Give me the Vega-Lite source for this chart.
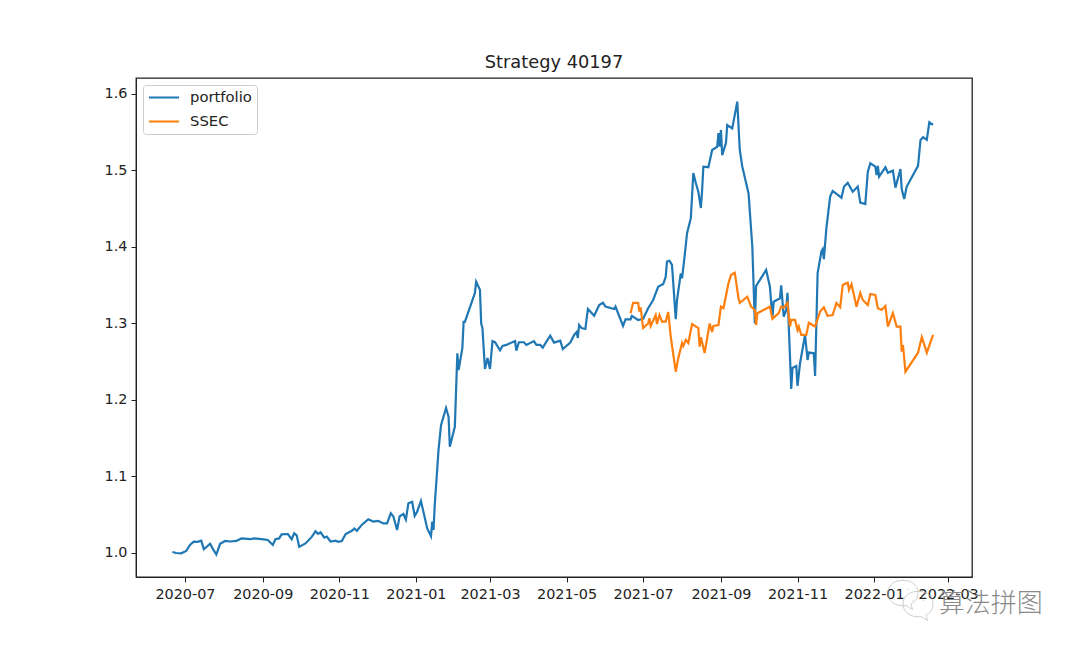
{"$schema":"https://vega.github.io/schema/vega-lite/v6.json","width":836,"height":499,"autosize":{"type":"none"},"padding":{"left":136,"top":78,"right":108,"bottom":71},"background":"white",
"title":{"text":"Strategy 40197","font":"DejaVu Sans","fontSize":17.8,"fontWeight":"normal","color":"#222222","offset":6,"anchor":"middle"},
"config":{"font":"DejaVu Sans","view":{"stroke":"#222222","strokeWidth":1.3}},
"layer":[
{"data":{"values":[
{"date":"2020-06-21","series":"portfolio","value":1.0013},{"date":"2020-06-24","series":"portfolio","value":1.0},{"date":"2020-06-28","series":"portfolio","value":0.9995},{"date":"2020-07-02","series":"portfolio","value":1.0026},{"date":"2020-07-05","series":"portfolio","value":1.0105},{"date":"2020-07-08","series":"portfolio","value":1.0148},{"date":"2020-07-11","series":"portfolio","value":1.0145},{"date":"2020-07-14","series":"portfolio","value":1.016},{"date":"2020-07-16","series":"portfolio","value":1.005},{"date":"2020-07-18","series":"portfolio","value":1.0075},{"date":"2020-07-21","series":"portfolio","value":1.012},{"date":"2020-07-23","series":"portfolio","value":1.006},{"date":"2020-07-26","series":"portfolio","value":0.998},{"date":"2020-07-29","series":"portfolio","value":1.012},{"date":"2020-08-02","series":"portfolio","value":1.0157},{"date":"2020-08-06","series":"portfolio","value":1.015},{"date":"2020-08-11","series":"portfolio","value":1.0157},{"date":"2020-08-15","series":"portfolio","value":1.019},{"date":"2020-08-22","series":"portfolio","value":1.018},{"date":"2020-08-25","series":"portfolio","value":1.019},{"date":"2020-08-31","series":"portfolio","value":1.018},{"date":"2020-09-05","series":"portfolio","value":1.017},{"date":"2020-09-09","series":"portfolio","value":1.0105},{"date":"2020-09-11","series":"portfolio","value":1.018},{"date":"2020-09-14","series":"portfolio","value":1.019},{"date":"2020-09-16","series":"portfolio","value":1.0244},{"date":"2020-09-21","series":"portfolio","value":1.0248},{"date":"2020-09-24","series":"portfolio","value":1.018},{"date":"2020-09-26","series":"portfolio","value":1.0257},{"date":"2020-09-28","series":"portfolio","value":1.023},{"date":"2020-09-30","series":"portfolio","value":1.008},{"date":"2020-10-05","series":"portfolio","value":1.0125},{"date":"2020-10-10","series":"portfolio","value":1.021},{"date":"2020-10-13","series":"portfolio","value":1.0283},{"date":"2020-10-15","series":"portfolio","value":1.025},{"date":"2020-10-17","series":"portfolio","value":1.027},{"date":"2020-10-20","series":"portfolio","value":1.02},{"date":"2020-10-22","series":"portfolio","value":1.0215},{"date":"2020-10-25","series":"portfolio","value":1.015},{"date":"2020-10-29","series":"portfolio","value":1.016},{"date":"2020-10-31","series":"portfolio","value":1.0146},{"date":"2020-11-03","series":"portfolio","value":1.0155},{"date":"2020-11-06","series":"portfolio","value":1.0248},{"date":"2020-11-11","series":"portfolio","value":1.029},{"date":"2020-11-13","series":"portfolio","value":1.032},{"date":"2020-11-15","series":"portfolio","value":1.029},{"date":"2020-11-19","series":"portfolio","value":1.037},{"date":"2020-11-24","series":"portfolio","value":1.044},{"date":"2020-11-28","series":"portfolio","value":1.041},{"date":"2020-12-02","series":"portfolio","value":1.042},{"date":"2020-12-06","series":"portfolio","value":1.0386},{"date":"2020-12-09","series":"portfolio","value":1.0386},{"date":"2020-12-12","series":"portfolio","value":1.052},{"date":"2020-12-14","series":"portfolio","value":1.0478},{"date":"2020-12-17","series":"portfolio","value":1.03},{"date":"2020-12-19","series":"portfolio","value":1.0478},{"date":"2020-12-22","series":"portfolio","value":1.051},{"date":"2020-12-24","series":"portfolio","value":1.0435},{"date":"2020-12-26","series":"portfolio","value":1.065},{"date":"2020-12-29","series":"portfolio","value":1.067},{"date":"2020-12-31","series":"portfolio","value":1.0485},{"date":"2021-01-02","series":"portfolio","value":1.054},{"date":"2021-01-05","series":"portfolio","value":1.068},{"date":"2021-01-10","series":"portfolio","value":1.032},{"date":"2021-01-13","series":"portfolio","value":1.022},{"date":"2021-01-14","series":"portfolio","value":1.041},{"date":"2021-01-15","series":"portfolio","value":1.03},{"date":"2021-01-16","series":"portfolio","value":1.0627},{"date":"2021-01-17","series":"portfolio","value":1.0867},{"date":"2021-01-19","series":"portfolio","value":1.1346},{"date":"2021-01-21","series":"portfolio","value":1.167},{"date":"2021-01-25","series":"portfolio","value":1.1895},{"date":"2021-01-27","series":"portfolio","value":1.178},{"date":"2021-01-28","series":"portfolio","value":1.139},{"date":"2021-02-01","series":"portfolio","value":1.165},{"date":"2021-02-03","series":"portfolio","value":1.261},{"date":"2021-02-04","series":"portfolio","value":1.239},{"date":"2021-02-07","series":"portfolio","value":1.268},{"date":"2021-02-08","series":"portfolio","value":1.302},{"date":"2021-02-09","series":"portfolio","value":1.302},{"date":"2021-02-17","series":"portfolio","value":1.34},{"date":"2021-02-18","series":"portfolio","value":1.3546},{"date":"2021-02-21","series":"portfolio","value":1.344},{"date":"2021-02-22","series":"portfolio","value":1.3},{"date":"2021-02-23","series":"portfolio","value":1.294},{"date":"2021-02-25","series":"portfolio","value":1.2405},{"date":"2021-02-27","series":"portfolio","value":1.255},{"date":"2021-03-01","series":"portfolio","value":1.2405},{"date":"2021-03-03","series":"portfolio","value":1.277},{"date":"2021-03-05","series":"portfolio","value":1.2755},{"date":"2021-03-09","series":"portfolio","value":1.265},{"date":"2021-03-11","series":"portfolio","value":1.2706},{"date":"2021-03-14","series":"portfolio","value":1.272},{"date":"2021-03-21","series":"portfolio","value":1.277},{"date":"2021-03-22","series":"portfolio","value":1.2644},{"date":"2021-03-24","series":"portfolio","value":1.2755},{"date":"2021-03-28","series":"portfolio","value":1.2755},{"date":"2021-03-30","series":"portfolio","value":1.272},{"date":"2021-04-05","series":"portfolio","value":1.277},{"date":"2021-04-07","series":"portfolio","value":1.272},{"date":"2021-04-10","series":"portfolio","value":1.272},{"date":"2021-04-12","series":"portfolio","value":1.2684},{"date":"2021-04-16","series":"portfolio","value":1.279},{"date":"2021-04-18","series":"portfolio","value":1.284},{"date":"2021-04-21","series":"portfolio","value":1.275},{"date":"2021-04-26","series":"portfolio","value":1.2775},{"date":"2021-04-28","series":"portfolio","value":1.2665},{"date":"2021-05-04","series":"portfolio","value":1.275},{"date":"2021-05-07","series":"portfolio","value":1.285},{"date":"2021-05-09","series":"portfolio","value":1.2888},{"date":"2021-05-10","series":"portfolio","value":1.281},{"date":"2021-05-11","series":"portfolio","value":1.298},{"date":"2021-05-13","series":"portfolio","value":1.294},{"date":"2021-05-16","series":"portfolio","value":1.2928},{"date":"2021-05-18","series":"portfolio","value":1.319},{"date":"2021-05-23","series":"portfolio","value":1.31},{"date":"2021-05-27","series":"portfolio","value":1.324},{"date":"2021-05-30","series":"portfolio","value":1.327},{"date":"2021-06-01","series":"portfolio","value":1.322},{"date":"2021-06-08","series":"portfolio","value":1.319},{"date":"2021-06-09","series":"portfolio","value":1.322},{"date":"2021-06-15","series":"portfolio","value":1.2967},{"date":"2021-06-17","series":"portfolio","value":1.3055},{"date":"2021-06-21","series":"portfolio","value":1.3055},{"date":"2021-06-22","series":"portfolio","value":1.31},{"date":"2021-06-27","series":"portfolio","value":1.3046},{"date":"2021-07-01","series":"portfolio","value":1.306},{"date":"2021-07-05","series":"portfolio","value":1.32},{"date":"2021-07-09","series":"portfolio","value":1.3307},{"date":"2021-07-13","series":"portfolio","value":1.348},{"date":"2021-07-17","series":"portfolio","value":1.3516},{"date":"2021-07-19","series":"portfolio","value":1.361},{"date":"2021-07-20","series":"portfolio","value":1.381},{"date":"2021-07-22","series":"portfolio","value":1.382},{"date":"2021-07-24","series":"portfolio","value":1.3765},{"date":"2021-07-27","series":"portfolio","value":1.3055},{"date":"2021-07-28","series":"portfolio","value":1.3307},{"date":"2021-07-31","series":"portfolio","value":1.3656},{"date":"2021-08-01","series":"portfolio","value":1.359},{"date":"2021-08-03","series":"portfolio","value":1.387},{"date":"2021-08-05","series":"portfolio","value":1.418},{"date":"2021-08-08","series":"portfolio","value":1.4377},{"date":"2021-08-10","series":"portfolio","value":1.4967},{"date":"2021-08-12","series":"portfolio","value":1.4837},{"date":"2021-08-14","series":"portfolio","value":1.472},{"date":"2021-08-16","series":"portfolio","value":1.451},{"date":"2021-08-17","series":"portfolio","value":1.4745},{"date":"2021-08-18","series":"portfolio","value":1.505},{"date":"2021-08-22","series":"portfolio","value":1.5043},{"date":"2021-08-25","series":"portfolio","value":1.5268},{"date":"2021-08-29","series":"portfolio","value":1.531},{"date":"2021-08-30","series":"portfolio","value":1.549},{"date":"2021-08-31","series":"portfolio","value":1.531},{"date":"2021-09-01","series":"portfolio","value":1.553},{"date":"2021-09-02","series":"portfolio","value":1.52},{"date":"2021-09-05","series":"portfolio","value":1.536},{"date":"2021-09-06","series":"portfolio","value":1.5595},{"date":"2021-09-10","series":"portfolio","value":1.555},{"date":"2021-09-14","series":"portfolio","value":1.59},{"date":"2021-09-16","series":"portfolio","value":1.5268},{"date":"2021-09-18","series":"portfolio","value":1.505},{"date":"2021-09-23","series":"portfolio","value":1.47},{"date":"2021-09-26","series":"portfolio","value":1.4},{"date":"2021-09-28","series":"portfolio","value":1.3},{"date":"2021-09-29","series":"portfolio","value":1.349},{"date":"2021-10-07","series":"portfolio","value":1.37},{"date":"2021-10-10","series":"portfolio","value":1.348},{"date":"2021-10-12","series":"portfolio","value":1.307},{"date":"2021-10-13","series":"portfolio","value":1.3285},{"date":"2021-10-18","series":"portfolio","value":1.333},{"date":"2021-10-19","series":"portfolio","value":1.35},{"date":"2021-10-21","series":"portfolio","value":1.309},{"date":"2021-10-23","series":"portfolio","value":1.3177},{"date":"2021-10-24","series":"portfolio","value":1.34},{"date":"2021-10-27","series":"portfolio","value":1.2144},{"date":"2021-10-28","series":"portfolio","value":1.2418},{"date":"2021-10-31","series":"portfolio","value":1.2444},{"date":"2021-11-01","series":"portfolio","value":1.2183},{"date":"2021-11-03","series":"portfolio","value":1.248},{"date":"2021-11-07","series":"portfolio","value":1.285},{"date":"2021-11-09","series":"portfolio","value":1.2523},{"date":"2021-11-10","series":"portfolio","value":1.262},{"date":"2021-11-14","series":"portfolio","value":1.261},{"date":"2021-11-15","series":"portfolio","value":1.2314},{"date":"2021-11-17","series":"portfolio","value":1.3656},{"date":"2021-11-20","series":"portfolio","value":1.3939},{"date":"2021-11-21","series":"portfolio","value":1.397},{"date":"2021-11-22","series":"portfolio","value":1.384},{"date":"2021-11-24","series":"portfolio","value":1.4247},{"date":"2021-11-27","series":"portfolio","value":1.4658},{"date":"2021-11-29","series":"portfolio","value":1.4732},{"date":"2021-12-06","series":"portfolio","value":1.4644},{"date":"2021-12-08","series":"portfolio","value":1.4788},{"date":"2021-12-11","series":"portfolio","value":1.484},{"date":"2021-12-15","series":"portfolio","value":1.4723},{"date":"2021-12-19","series":"portfolio","value":1.479},{"date":"2021-12-21","series":"portfolio","value":1.458},{"date":"2021-12-25","series":"portfolio","value":1.456},{"date":"2021-12-27","series":"portfolio","value":1.4985},{"date":"2021-12-29","series":"portfolio","value":1.5094},{"date":"2022-01-02","series":"portfolio","value":1.505},{"date":"2022-01-03","series":"portfolio","value":1.494},{"date":"2022-01-04","series":"portfolio","value":1.506},{"date":"2022-01-05","series":"portfolio","value":1.492},{"date":"2022-01-10","series":"portfolio","value":1.5042},{"date":"2022-01-12","series":"portfolio","value":1.497},{"date":"2022-01-16","series":"portfolio","value":1.4998},{"date":"2022-01-18","series":"portfolio","value":1.4775},{"date":"2022-01-22","series":"portfolio","value":1.502},{"date":"2022-01-23","series":"portfolio","value":1.4757},{"date":"2022-01-25","series":"portfolio","value":1.4627},{"date":"2022-01-27","series":"portfolio","value":1.479},{"date":"2022-02-05","series":"portfolio","value":1.506},{"date":"2022-02-07","series":"portfolio","value":1.54},{"date":"2022-02-09","series":"portfolio","value":1.5435},{"date":"2022-02-12","series":"portfolio","value":1.54},{"date":"2022-02-14","series":"portfolio","value":1.563},{"date":"2022-02-17","series":"portfolio","value":1.5595},
{"date":"2021-06-21","series":"SSEC","value":1.3133},{"date":"2021-06-23","series":"SSEC","value":1.327},{"date":"2021-06-27","series":"SSEC","value":1.327},{"date":"2021-06-28","series":"SSEC","value":1.3155},{"date":"2021-06-29","series":"SSEC","value":1.3212},{"date":"2021-07-01","series":"SSEC","value":1.294},{"date":"2021-07-05","series":"SSEC","value":1.3},{"date":"2021-07-06","series":"SSEC","value":1.307},{"date":"2021-07-07","series":"SSEC","value":1.2967},{"date":"2021-07-11","series":"SSEC","value":1.311},{"date":"2021-07-12","series":"SSEC","value":1.2993},{"date":"2021-07-14","series":"SSEC","value":1.311},{"date":"2021-07-16","series":"SSEC","value":1.3024},{"date":"2021-07-19","series":"SSEC","value":1.3024},{"date":"2021-07-21","series":"SSEC","value":1.315},{"date":"2021-07-23","series":"SSEC","value":1.2828},{"date":"2021-07-27","series":"SSEC","value":1.237},{"date":"2021-07-29","series":"SSEC","value":1.2547},{"date":"2021-08-01","series":"SSEC","value":1.2745},{"date":"2021-08-02","series":"SSEC","value":1.2706},{"date":"2021-08-04","series":"SSEC","value":1.2785},{"date":"2021-08-06","series":"SSEC","value":1.2745},{"date":"2021-08-09","series":"SSEC","value":1.2993},{"date":"2021-08-14","series":"SSEC","value":1.294},{"date":"2021-08-15","series":"SSEC","value":1.2697},{"date":"2021-08-16","series":"SSEC","value":1.282},{"date":"2021-08-19","series":"SSEC","value":1.2614},{"date":"2021-08-23","series":"SSEC","value":1.3},{"date":"2021-08-25","series":"SSEC","value":1.289},{"date":"2021-08-26","series":"SSEC","value":1.2967},{"date":"2021-08-30","series":"SSEC","value":1.298},{"date":"2021-09-01","series":"SSEC","value":1.322},{"date":"2021-09-03","series":"SSEC","value":1.32},{"date":"2021-09-07","series":"SSEC","value":1.3525},{"date":"2021-09-09","series":"SSEC","value":1.3634},{"date":"2021-09-12","series":"SSEC","value":1.3664},{"date":"2021-09-15","series":"SSEC","value":1.333},{"date":"2021-09-16","series":"SSEC","value":1.327},{"date":"2021-09-22","series":"SSEC","value":1.335},{"date":"2021-09-25","series":"SSEC","value":1.322},{"date":"2021-09-28","series":"SSEC","value":1.3177},{"date":"2021-09-29","series":"SSEC","value":1.298},{"date":"2021-09-30","series":"SSEC","value":1.3135},{"date":"2021-10-10","series":"SSEC","value":1.322},{"date":"2021-10-12","series":"SSEC","value":1.306},{"date":"2021-10-17","series":"SSEC","value":1.3135},{"date":"2021-10-19","series":"SSEC","value":1.322},{"date":"2021-10-21","series":"SSEC","value":1.3207},{"date":"2021-10-24","series":"SSEC","value":1.327},{"date":"2021-10-26","series":"SSEC","value":1.296},{"date":"2021-10-27","series":"SSEC","value":1.3046},{"date":"2021-10-30","series":"SSEC","value":1.3046},{"date":"2021-11-01","series":"SSEC","value":1.2915},{"date":"2021-11-02","series":"SSEC","value":1.296},{"date":"2021-11-04","series":"SSEC","value":1.285},{"date":"2021-11-08","series":"SSEC","value":1.285},{"date":"2021-11-10","series":"SSEC","value":1.301},{"date":"2021-11-15","series":"SSEC","value":1.296},{"date":"2021-11-19","series":"SSEC","value":1.3155},{"date":"2021-11-22","series":"SSEC","value":1.3212},{"date":"2021-11-25","series":"SSEC","value":1.31},{"date":"2021-11-29","series":"SSEC","value":1.311},{"date":"2021-12-02","series":"SSEC","value":1.3268},{"date":"2021-12-05","series":"SSEC","value":1.3212},{"date":"2021-12-07","series":"SSEC","value":1.3503},{"date":"2021-12-11","series":"SSEC","value":1.3533},{"date":"2021-12-12","series":"SSEC","value":1.3438},{"date":"2021-12-14","series":"SSEC","value":1.3516},{"date":"2021-12-18","series":"SSEC","value":1.322},{"date":"2021-12-21","series":"SSEC","value":1.3399},{"date":"2021-12-23","series":"SSEC","value":1.3307},{"date":"2021-12-27","series":"SSEC","value":1.324},{"date":"2021-12-29","series":"SSEC","value":1.3386},{"date":"2022-01-02","series":"SSEC","value":1.3373},{"date":"2022-01-04","series":"SSEC","value":1.32},{"date":"2022-01-07","series":"SSEC","value":1.3177},{"date":"2022-01-10","series":"SSEC","value":1.3229},{"date":"2022-01-12","series":"SSEC","value":1.2958},{"date":"2022-01-16","series":"SSEC","value":1.3135},{"date":"2022-01-19","series":"SSEC","value":1.2958},{"date":"2022-01-22","series":"SSEC","value":1.2958},{"date":"2022-01-23","series":"SSEC","value":1.2632},{"date":"2022-01-24","series":"SSEC","value":1.2719},{"date":"2022-01-26","series":"SSEC","value":1.237},{"date":"2022-02-05","series":"SSEC","value":1.2618},{"date":"2022-02-08","series":"SSEC","value":1.2823},{"date":"2022-02-12","series":"SSEC","value":1.2618},{"date":"2022-02-17","series":"SSEC","value":1.285}
]},
"mark":{"type":"line","strokeWidth":2.2,"interpolate":"linear"},
"encoding":{
"x":{"field":"date","type":"temporal","scale":{"type":"utc","domain":[{"year":2020,"month":5,"date":23,"utc":true},{"year":2022,"month":3,"date":20,"utc":true}]},
"axis":{"title":null,"grid":false,"labelExpr":"utcFormat(datum.value,'%Y-%m')","labelFont":"DejaVu Sans","labelFontSize":14.4,"labelColor":"#222222","labelPadding":5,"tickColor":"#222222","tickSize":5,"domainColor":"#222222","labelFlush":false,"labelOverlap":false,
"values":[{"year":2020,"month":7,"date":1,"utc":true},{"year":2020,"month":9,"date":1,"utc":true},{"year":2020,"month":11,"date":1,"utc":true},{"year":2021,"month":1,"date":1,"utc":true},{"year":2021,"month":3,"date":1,"utc":true},{"year":2021,"month":5,"date":1,"utc":true},{"year":2021,"month":7,"date":1,"utc":true},{"year":2021,"month":9,"date":1,"utc":true},{"year":2021,"month":11,"date":1,"utc":true},{"year":2022,"month":1,"date":1,"utc":true},{"year":2022,"month":3,"date":1,"utc":true}]}},
"y":{"field":"value","type":"quantitative","scale":{"domain":[0.9686,1.6209],"nice":false,"zero":false},
"axis":{"title":null,"grid":false,"values":[1.0,1.1,1.2,1.3,1.4,1.5,1.6],"format":".1f","labelFont":"DejaVu Sans","labelFontSize":14.4,"labelColor":"#222222","labelPadding":4,"tickColor":"#222222","tickSize":5,"domainColor":"#222222"}},
"color":{"field":"series","type":"nominal","scale":{"domain":["portfolio","SSEC"],"range":["#1f77b4","#ff7f0e"]},
"legend":{"title":null,"orient":"top-left","offset":7,"fillColor":"white","strokeColor":"#cccccc","cornerRadius":3,"padding":5,"symbolType":"stroke","symbolSize":900,"symbolStrokeWidth":2,"labelFontSize":14.8,"labelFont":"DejaVu Sans","labelColor":"#222222","labelOffset":10,"clipHeight":15,"rowPadding":8,"labelLimit":200}}}
},
{"data":{"values":[{"date":"2022-01-24","value":0.9477},{"date":"2022-02-05","value":0.9333}]},
"mark":{"type":"point","filled":false,"stroke":"#bbbbbb","strokeWidth":1,"size":3600,"shape":"M-0.5,0 C-0.5,-0.28 -0.28,-0.42 0,-0.42 C0.28,-0.42 0.5,-0.28 0.5,0 C0.5,0.2 0.38,0.32 0.26,0.37 L0.32,0.55 L0.1,0.42 C-0.28,0.46 -0.5,0.25 -0.5,0 Z M-0.2,-0.12 L-0.16,-0.12 M0.16,-0.12 L0.2,-0.12"},
"encoding":{"x":{"field":"date","type":"temporal"},"y":{"field":"value","type":"quantitative"}}},
{"data":{"values":[{"date":"2022-04-04","value":0.9334,"label":"算法拼图"}]},
"mark":{"type":"text","font":"Noto Sans CJK SC","fontSize":26,"fontWeight":300,"color":"#8a8a8a","align":"center","baseline":"middle"},
"encoding":{"x":{"field":"date","type":"temporal"},"y":{"field":"value","type":"quantitative"},"text":{"field":"label"}}}
]}
